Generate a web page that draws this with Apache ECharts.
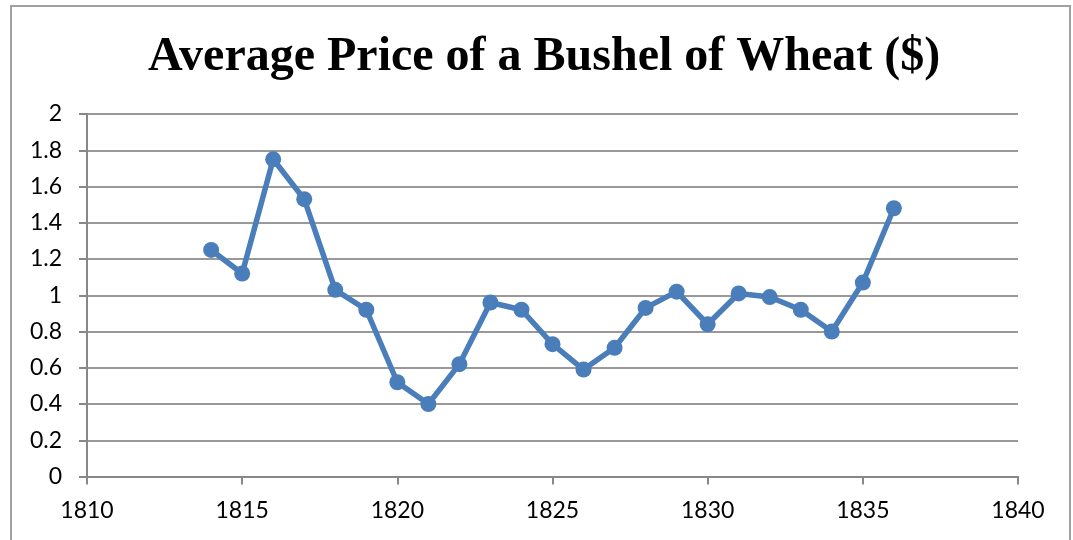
<!DOCTYPE html>
<html>
<head>
<meta charset="utf-8">
<script src="https://cdn.jsdelivr.net/npm/echarts@6/dist/echarts.min.js"></script>
<style>
  html, body { margin: 0; padding: 0; background: #fff; }
  #chart { width: 1073px; height: 540px; }
</style>
</head>
<body>
<div id="chart"></div>
<script>
// data
var years = [1814, 1815, 1816, 1817, 1818, 1819, 1820, 1821, 1822, 1823, 1824, 1825,
  1826, 1827, 1828, 1829, 1830, 1831, 1832, 1833, 1834, 1835, 1836]
var prices = [1.25, 1.12, 1.75, 1.53, 1.03, 0.92, 0.52, 0.40, 0.62, 0.96, 0.92, 0.73,
  0.59, 0.71, 0.93, 1.02, 0.84, 1.01, 0.99, 0.92, 0.80, 1.07, 1.48]
var titleText = 'Average Price of a Bushel of Wheat ($)'

var points = years.map(function (y, i) { return [y, prices[i]] })

var myChart = echarts.init(document.getElementById('chart'))
var option = {
  backgroundColor: '#fff',
  animation: false,
  title: {
    text: titleText,
    left: 143,
    top: 29,
    textStyle: {
      fontFamily: 'Liberation Serif',
      fontWeight: 'bold',
      fontSize: 48,
      color: '#000'
    }
  },
  graphic: [{
    type: 'rect',
    shape: { x: 11, y: 6, width: 1059, height: 545 },
    style: { fill: 'none', stroke: '#a0a0a0', lineWidth: 2 },
    silent: true
  }],
  grid: {
    left: 87,
    right: 55,
    top: 114,
    bottom: 63.5
  },
  xAxis: {
    type: 'value',
    min: 1810,
    max: 1840,
    interval: 5,
    axisLine: { show: true, lineStyle: { color: '#888', width: 2 } },
    axisTick: { show: true, length: 8, lineStyle: { color: '#888', width: 2 } },
    splitLine: { show: false },
    axisLabel: {
      margin: 23,
      fontFamily: 'Lato',
      fontSize: 23,
      color: '#000',
      formatter: function (v) { return String(v) }
    }
  },
  yAxis: {
    type: 'value',
    min: 0,
    max: 2,
    interval: 0.2,
    axisLine: { show: true, lineStyle: { color: '#888', width: 2 } },
    axisTick: { show: true, length: 8, lineStyle: { color: '#888', width: 2 } },
    splitLine: { show: true, lineStyle: { color: '#999', width: 2 } },
    axisLabel: {
      margin: 25,
      fontFamily: 'Lato',
      fontSize: 23,
      color: '#000',
      formatter: function (v) { return String(Math.round(v * 10) / 10) }
    }
  },
  series: [{
    type: 'line',
    data: points,
    symbol: 'circle',
    symbolSize: 16,
    lineStyle: { color: '#4a7ebb', width: 5.5 },
    itemStyle: { color: '#4a7ebb' }
  }]
}
myChart.setOption(option)
</script>
</body>
</html>
